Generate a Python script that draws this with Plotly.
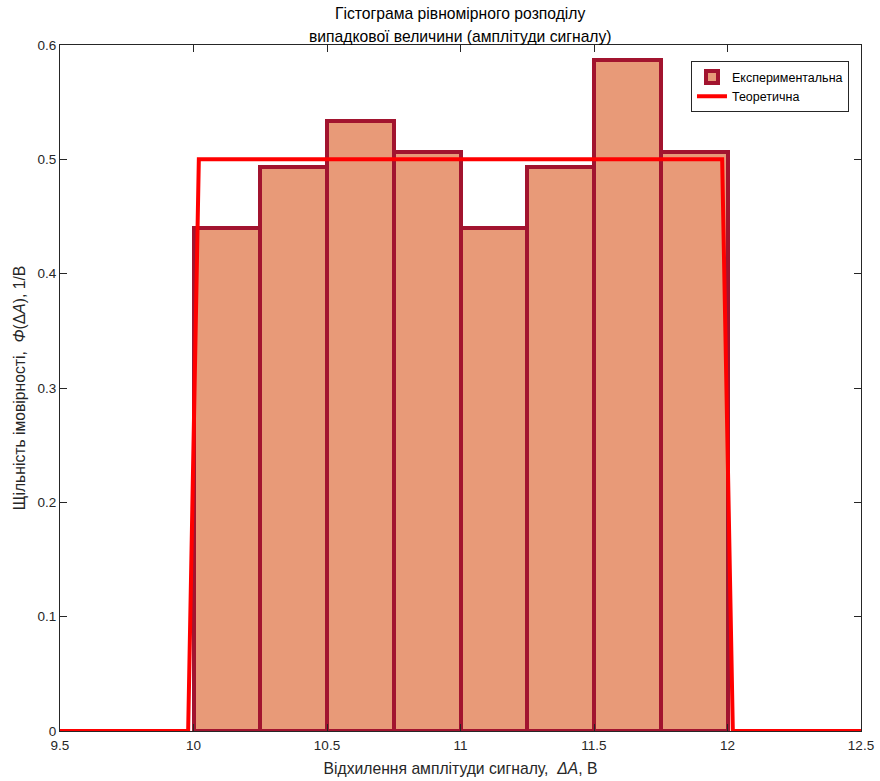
import plotly.graph_objects as go

bin_edges = [10.0, 10.25, 10.5, 10.75, 11.0, 11.25, 11.5, 11.75, 12.0]
density = [0.44, 0.4933, 0.5333, 0.5067, 0.44, 0.4933, 0.5867, 0.5067]
theory_x = [9.5, 9.98, 10.02, 11.98, 12.02, 12.5]
theory_y = [0, 0, 0.5, 0.5, 0, 0]
x_ticks = [9.5, 10, 10.5, 11, 11.5, 12, 12.5]
x_tick_labels = ["9.5", "10", "10.5", "11", "11.5", "12", "12.5"]
y_ticks = [0, 0.1, 0.2, 0.3, 0.4, 0.5, 0.6]
y_tick_labels = ["0", "0.1", "0.2", "0.3", "0.4", "0.5", "0.6"]
title_lines = ["Гістограма рівномірного розподілу",
               "випадкової величини (амплітуди сигналу)"]

centers = [(a + b) / 2 for a, b in zip(bin_edges[:-1], bin_edges[1:])]
widths = [b - a for a, b in zip(bin_edges[:-1], bin_edges[1:])]

FONT = "Liberation Sans, Arial, sans-serif"
TXT = "#262626"

fig = go.Figure()
fig.add_trace(go.Bar(
    x=centers, y=density, width=widths, name="Експериментальна",
    marker=dict(color="rgb(232,154,120)", line=dict(color="#A2142F", width=4)),
))
fig.add_trace(go.Scatter(
    x=theory_x, y=theory_y, mode="lines", name="Теоретична",
    line=dict(color="#FF0000", width=4),
))

axis_common = dict(
    showgrid=False, zeroline=False, showline=True, linecolor=TXT, linewidth=1,
    mirror="ticks", ticks="inside", ticklen=7, tickcolor=TXT, automargin=False,
    tickfont=dict(family=FONT, size=13.5, color=TXT),
)
fig.update_layout(
    width=880, height=781,
    margin=dict(l=60, r=19, t=45, b=50, autoexpand=False),
    paper_bgcolor="white", plot_bgcolor="white",
    font=dict(family=FONT, color=TXT),
    bargap=0,
    xaxis=dict(range=[9.5, 12.5], tickvals=x_ticks, ticktext=x_tick_labels,
               ticklabelstandoff=2,
               title=dict(text="Відхилення амплітуди сигналу,  <i>ΔA</i>, В",
                          font=dict(family=FONT, size=15.7, color=TXT), standoff=10),
               **axis_common),
    yaxis=dict(range=[0, 0.6], tickvals=y_ticks, ticktext=y_tick_labels,
               title=dict(text="Щільність імовірності,  <i>Φ</i>(Δ<i>A</i>), 1/В",
                          font=dict(family=FONT, size=15.7, color=TXT), standoff=8),
               **axis_common),
    legend=dict(x=0.985, xanchor="right", y=0.976, yanchor="top",
                bgcolor="white", bordercolor=TXT, borderwidth=1,
                font=dict(family=FONT, size=12.5, color="black"),
                tracegroupgap=0, itemwidth=30),
    showlegend=True,
)
for line, ypos in zip(title_lines, [1.0466, 1.0131]):
    fig.add_annotation(text=line, xref="paper", yref="paper", x=0.5, y=ypos,
                       xanchor="center", yanchor="middle", showarrow=False,
                       font=dict(family=FONT, size=15.7, color="black"))

fig.write_html("out.html", config={"displayModeBar": False},
               post_script="document.body.style.margin='0';")
